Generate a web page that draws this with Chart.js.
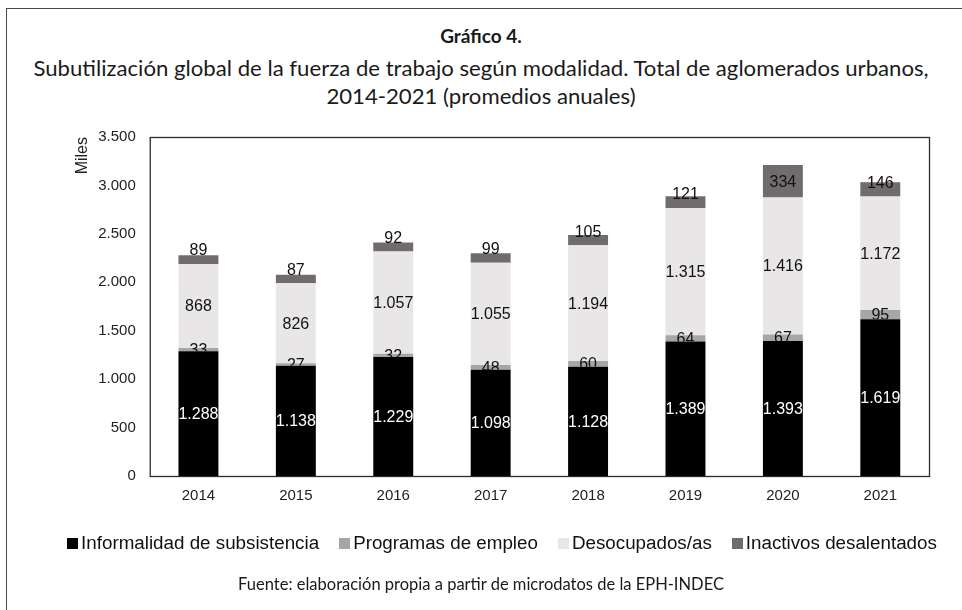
<!DOCTYPE html>
<html>
<head>
<meta charset="utf-8">
<script src="https://cdn.jsdelivr.net/npm/chart.js@4.4.1/dist/chart.umd.min.js"></script>
<style>
  html, body { margin: 0; padding: 0; background: #fff; }
  #wrap { position: relative; width: 962px; height: 610px; overflow: hidden; }
  #frame { position: absolute; left: 6px; top: 8px; width: 1000px; height: 700px; border: 1.5px solid #4a4a4a; box-sizing: border-box; }
  .txt { position: absolute; left: 0; width: 962px; text-align: center; font-family: Lato, "Open Sans", sans-serif; color: #1a1a1a; }
  #t1 { top: 24px; font-size: 19px; font-weight: bold; }
  #t2 { top: 54px; font-size: 21px; line-height: 28px; transform: scaleX(1.055); }
  #foot { top: 574px; font-size: 16.5px; }
  #legend { position: absolute; left: 21px; top: 531px; width: 962px; display: flex; justify-content: center; gap: 20px;
            font-family: "Liberation Sans", Arial, sans-serif; font-size: 18.8px; line-height: 24px; color: #111; }
  #legend .item { display: flex; align-items: center; white-space: nowrap; }
  #legend .box { width: 11px; height: 11px; margin-right: 3px; margin-top: 1px; }
  canvas { position: absolute; left: 0; top: 0; }
</style>
</head>
<body>
<div id="wrap">
  <div id="frame"></div>
  <div class="txt" id="t1">Gráfico 4.</div>
  <div class="txt" id="t2">Subutilización global de la fuerza de trabajo según modalidad. Total de aglomerados urbanos,<br>2014-2021 (promedios anuales)</div>
  <canvas id="chart" width="962" height="610"></canvas>
  <div id="legend"></div>
  <div class="txt" id="foot">Fuente: elaboración propia a partir de microdatos de la EPH-INDEC</div>
</div>
<script>
// datos en miles de personas
const years = ['2014', '2015', '2016', '2017', '2018', '2019', '2020', '2021'];
const informalidad = [1288, 1138, 1229, 1098, 1128, 1389, 1393, 1619];
const programas = [33, 27, 32, 48, 60, 64, 67, 95];
const desocupados = [868, 826, 1057, 1055, 1194, 1315, 1416, 1172];
const inactivos = [89, 87, 92, 99, 105, 121, 334, 146];

const fmt = v => String(Math.round(v)).replace(/\B(?=(\d{3})+(?!\d))/g, '.');
const FONT = '"Liberation Sans", Arial, sans-serif';

// etiquetas de valor dentro de cada segmento
const segmentLabels = {
    id: 'segmentLabels',
    afterDatasetsDraw(chart) {
        const ctx = chart.ctx;
        ctx.save();
        ctx.font = '16px ' + FONT;
        ctx.textAlign = 'center';
        ctx.textBaseline = 'middle';
        chart.data.datasets.forEach((ds, i) => {
            const meta = chart.getDatasetMeta(i);
            meta.data.forEach((bar, j) => {
                const top = Math.min(bar.y, bar.base);
                const bottom = Math.max(bar.y, bar.base);
                let y = (top + bottom) / 2;
                if (i === 3) y = Math.min(y, bottom - 14);
                ctx.save();
                if (i === 1) {
                    // el valor queda tapado por la barra de abajo
                    ctx.beginPath();
                    ctx.rect(bar.x - 30, 0, 60, bottom);
                    ctx.clip();
                }
                ctx.fillStyle = i === 0 ? '#ffffff' : '#111111';
                ctx.fillText(fmt(ds.data[j]), bar.x, y + 1);
                ctx.restore();
            });
        });
        ctx.restore();
    }
};

// recuadro del area de graficos
const plotBox = {
    id: 'plotBox',
    afterDatasetsDraw(chart) {
        const a = chart.chartArea;
        const ctx = chart.ctx;
        ctx.save();
        ctx.strokeStyle = '#2b2b2b';
        ctx.lineWidth = 1.3;
        ctx.strokeRect(a.left + 0.5, a.top + 0.5, a.right - a.left, a.bottom - a.top);
        ctx.restore();
    }
};

const ctx = document.getElementById('chart').getContext('2d');
const chart = new Chart(ctx, {
    type: 'bar',
    data: {
        labels: years,
        datasets: [
            { label: 'Informalidad de subsistencia', data: informalidad, backgroundColor: '#000000' },
            { label: 'Programas de empleo', data: programas, backgroundColor: '#a6a6a6' },
            { label: 'Desocupados/as', data: desocupados, backgroundColor: '#e8e6e6' },
            { label: 'Inactivos desalentados', data: inactivos, backgroundColor: '#706c6d' },
        ],
    },
    options: {
        responsive: false,
        animation: false,
        datasets: { bar: { barPercentage: 0.41, categoryPercentage: 1, borderWidth: 0 } },
        layout: { padding: { top: 137, left: 57, right: 33, bottom: 94 } },
        scales: {
            x: {
                stacked: true,
                grid: { display: false, drawTicks: false },
                border: { display: false },
                ticks: { color: '#222', padding: 11, font: { family: FONT, size: 15 } },
            },
            y: {
                stacked: true,
                min: 0,
                max: 3500,
                grid: { display: false, drawTicks: false },
                border: { display: false },
                ticks: {
                    stepSize: 500,
                    color: '#222',
                    padding: 14,
                    font: { family: FONT, size: 15 },
                    callback: v => fmt(v),
                },
                title: {
                    display: true,
                    text: 'Miles',
                    align: 'end',
                    color: '#222',
                    padding: { top: 16, bottom: -8 },
                    font: { family: FONT, size: 16 },
                },
            },
        },
        plugins: {
            legend: { display: false },
            tooltip: { enabled: false },
        },
    },
    plugins: [segmentLabels, plotBox],
});

// leyenda armada con los datasets del grafico
const legendEl = document.getElementById('legend');
chart.data.datasets.forEach(ds => {
    const item = document.createElement('span');
    item.className = 'item';
    const box = document.createElement('span');
    box.className = 'box';
    box.style.background = ds.backgroundColor;
    item.appendChild(box);
    item.appendChild(document.createTextNode(ds.label));
    legendEl.appendChild(item);
});
</script>
</body>
</html>
